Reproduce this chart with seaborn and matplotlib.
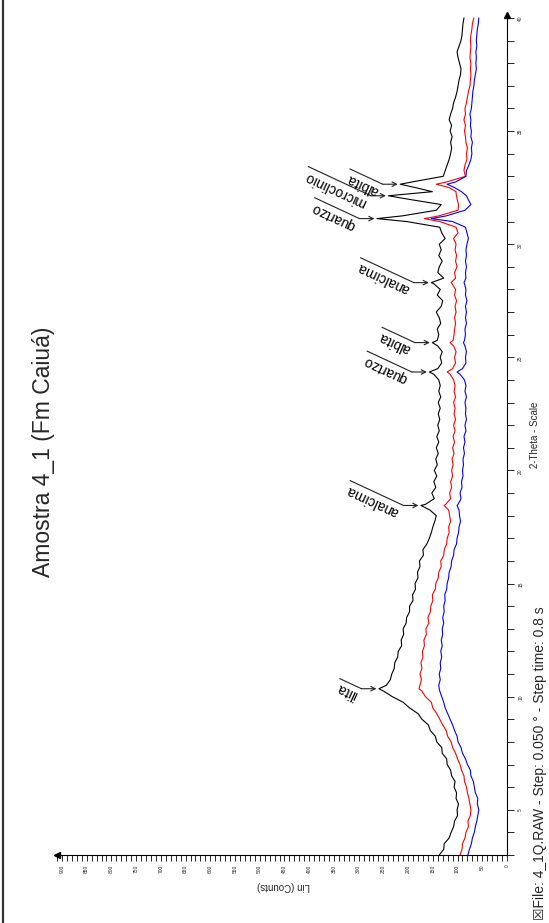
"""
XRD diffractogram, sample 4_1 (Fm Caiuá), drawn rotated like the scanned page.
"""

import numpy as np
import pandas as pd
import matplotlib
matplotlib.use("Agg")
import matplotlib.pyplot as plt
import seaborn as sns
from matplotlib.lines import Line2D
from matplotlib.ticker import MultipleLocator

# scan grid (2-theta, degrees) and counts
theta_grid = np.arange(3.0, 40.001, 0.25)

black_counts = [
    137, 128, 127, 117, 113, 108, 106, 100, 101, 98, 103, 102, 107, 105, 112, 114,
    121, 122, 131, 132, 142, 145, 155, 159, 172, 180, 197, 210, 232, 250,
    244, 236, 233, 228, 227, 221, 220, 213, 214, 209, 210, 204, 203, 197, 197, 190,
    191, 185, 186, 180, 181, 176, 177, 169, 170, 162, 157, 153, 150, 146, 143, 156,
    165, 147, 152, 144, 148, 142, 147, 141, 144, 139, 143, 138, 142, 137, 140, 136,
    139, 135, 139, 134, 138, 135, 138, 148, 140, 132, 135, 131, 140, 141, 138, 141,
    134, 137, 143, 133, 130, 141, 135, 148, 128, 140, 137, 131, 138, 133, 137, 125,
    132, 136, 203, 212, 143, 133, 203, 186, 185, 192, 129, 125, 121, 117, 114, 112,
    114, 111, 115, 112, 117, 114, 110, 108, 104, 101, 99, 97, 94, 93, 96, 99,
    101, 97, 93, 91, 90, 89, 87,
]
red_counts = [
    95, 91, 90, 85, 83, 78, 79, 74, 73, 75, 77, 80, 82, 86, 87, 92,
    95, 100, 104, 110, 113, 120, 123, 130, 136, 142, 150, 153, 165, 172,
    176, 173, 176, 172, 174, 170, 171, 167, 168, 163, 164, 158, 160, 155, 154, 150,
    151, 145, 144, 139, 138, 133, 134, 128, 127, 122, 121, 117, 118, 114, 116, 118,
    124, 114, 116, 112, 114, 110, 112, 109, 111, 107, 110, 106, 109, 105, 108, 104,
    107, 105, 108, 104, 107, 105, 108, 115, 110, 104, 106, 103, 108, 109, 107, 106,
    104, 106, 103, 105, 102, 106, 104, 111, 104, 106, 101, 104, 102, 105, 103, 108,
    99, 103, 136, 138, 99, 98, 101, 103, 117, 122, 84, 87, 85, 81, 82, 80,
    83, 84, 86, 84, 87, 84, 85, 82, 80, 78, 75, 74, 73, 74, 73, 75,
    74, 73, 74, 73, 71, 70, 67,
]
blue_counts = [
    79, 76, 72, 70, 66, 64, 61, 59, 57, 60, 59, 64, 66, 68, 73, 74,
    80, 84, 90, 93, 99, 101, 106, 110, 115, 120, 125, 128, 132, 136,
    138, 135, 137, 134, 135, 132, 134, 131, 133, 130, 131, 128, 130, 127, 128, 125,
    126, 122, 121, 118, 117, 113, 112, 108, 107, 102, 101, 98, 97, 94, 96, 97,
    99, 93, 95, 91, 92, 89, 90, 88, 89, 86, 88, 85, 87, 83, 85, 82,
    84, 83, 85, 82, 85, 83, 86, 95, 90, 83, 84, 82, 85, 86, 84, 85,
    82, 84, 82, 84, 81, 84, 83, 86, 83, 84, 82, 84, 82, 83, 81, 78,
    81, 84, 110, 123, 85, 73, 79, 88, 106, 104, 83, 82, 77, 73, 71, 72,
    70, 73, 72, 74, 73, 75, 72, 71, 70, 69, 67, 66, 64, 62, 63, 62,
    63, 61, 62, 61, 60, 58, 57,
]

# extra points at the sharp reflections
extra_theta = [10.35, 18.45, 24.35, 25.65, 28.30, 31.13, 32.14, 32.32, 32.65]
extra_black = [259, 174, 157, 151, 153, 263, 240, 151, 216]
extra_red = [178, 127, 121, 115, 113, 167, 102, 103, 143]
extra_blue = [137, 101, 101, 88, 87, 153, 82, 92, 121]

# identified phases
phase_names = ["ilita", "analcima", "quartzo", "albita", "analcima",
               "quartzo", "microclinio", "albita"]
phase_theta = [10.35, 18.45, 24.35, 25.65, 28.30, 31.13, 32.14, 32.65]

count_ticks = np.arange(0, 901, 50)
theta_ticks = np.arange(5, 41, 5)

SCAN_COLORS = {"black": "#000000", "red": "#ff0000", "blue": "#0000ff"}


def build_frame() -> pd.DataFrame:
    theta = np.concatenate([theta_grid, extra_theta])
    parts = []
    for name, grid_vals, extra_vals in [
        ("black", black_counts, extra_black),
        ("red", red_counts, extra_red),
        ("blue", blue_counts, extra_blue),
    ]:
        df = pd.DataFrame({"theta": theta,
                           "counts": np.concatenate([grid_vals, extra_vals]),
                           "scan": name})
        parts.append(df.sort_values("theta"))
    return pd.concat(parts, ignore_index=True)


sns.set_theme(style="white")
plt.rcParams["font.family"] = ["Liberation Sans", "DejaVu Sans"]

W, H = 549, 923
fig = plt.figure(figsize=(W / 100, H / 100), dpi=100)
fig.patch.set_facecolor("white")
ax = fig.add_axes([57 / W, 1 - 855 / H, (507 - 57) / W, (855 - 15) / H])

data = build_frame()
sns.lineplot(data=data, x="counts", y="theta", hue="scan", palette=SCAN_COLORS,
             estimator=None, sort=False, orient="y", legend=False,
             linewidth=0.8, ax=ax)

ax.set_xlim(910, 0)
ax.set_ylim(3, 40.13)
ax.set_xlabel("")
ax.set_ylabel("")

for side in ["left", "top"]:
    ax.spines[side].set_visible(False)
for side in ["bottom", "right"]:
    ax.spines[side].set_color("black")
    ax.spines[side].set_linewidth(0.8)

ax.yaxis.tick_right()
ax.set_xticks(count_ticks)
ax.set_xticklabels([str(v) for v in count_ticks])
ax.xaxis.set_minor_locator(MultipleLocator(10))
ax.set_yticks(theta_ticks)
ax.set_yticklabels([str(v) for v in theta_ticks])
ax.yaxis.set_minor_locator(MultipleLocator(1))
ax.tick_params(axis="x", which="both", bottom=True, direction="out", length=4,
               width=0.6, color="black", labelsize=3.5, labelrotation=90, pad=3)
ax.tick_params(axis="y", which="both", right=True, left=False, direction="out",
               length=5, width=0.6, color="black", labelsize=3.5,
               labelrotation=90, pad=3)

# arrow heads on the axis ends
ax.plot([1], [1], marker="^", color="black", markersize=4,
        transform=ax.transAxes, clip_on=False)
ax.plot([0], [0], marker="<", color="black", markersize=4,
        transform=ax.transAxes, clip_on=False)

# phase labels with leader lines
renderer = fig.canvas.get_renderer()
to_data = ax.transData.inverted()
ang = np.deg2rad(25)
apex = dict(zip(extra_theta, extra_black))
for name, th in zip(phase_names, phase_theta):
    tip = apex[th] + 5
    tx, ty = ax.transData.transform((tip, th))
    ex, ey = tx - 15, ty
    probe = fig.text(0, 0, name, fontsize=10)
    width = probe.get_window_extent(renderer).width
    probe.remove()
    length = width + 3
    sx, sy = ex - length * np.cos(ang), ey + length * np.sin(ang)
    (s_c, s_t), (e_c, e_t) = to_data.transform([(sx, sy), (ex, ey)])
    ax.plot([s_c, e_c], [s_t, e_t], color="#222222", lw=0.8, clip_on=False)
    ax.annotate("", xy=(tip, th), xytext=(e_c, e_t),
                arrowprops=dict(arrowstyle="->", lw=0.8, color="#222222",
                                shrinkA=0, shrinkB=0, mutation_scale=8))
    cx, cy = (sx + ex) / 2 - 4, (sy + ey) / 2 - 8
    c_c, c_t = to_data.transform((cx, cy))
    ax.text(c_c, c_t, name, rotation=155, rotation_mode="anchor",
            ha="center", va="center", fontsize=10, color="black")

# axis titles and page text
fig.text(283 / W, 1 - 886 / H, "Lin (Counts)", rotation=180, fontsize=7,
         ha="center", va="center")
fig.text(535 / W, 1 - 435 / H, "2-Theta - Scale", rotation=90, fontsize=7,
         ha="center", va="center")
fig.text(44 / W, 1 - 452 / H, "Amostra 4_1 (Fm Caiuá)", rotation=90,
         fontsize=16.5, ha="center", va="center")
fig.text(540 / W, 1 - 920 / H,
         "\u2612File: 4_1Q.RAW - Step: 0.050 \u00b0 - Step time: 0.8 s",
         rotation=90, fontsize=10, ha="center", va="bottom")

# page frame on the left edge
fig.add_artist(Line2D([2.5 / W, 2.5 / W], [0, 1], color="#333333", lw=1.6))

fig.savefig("out.png", dpi=100)
plt.close(fig)
